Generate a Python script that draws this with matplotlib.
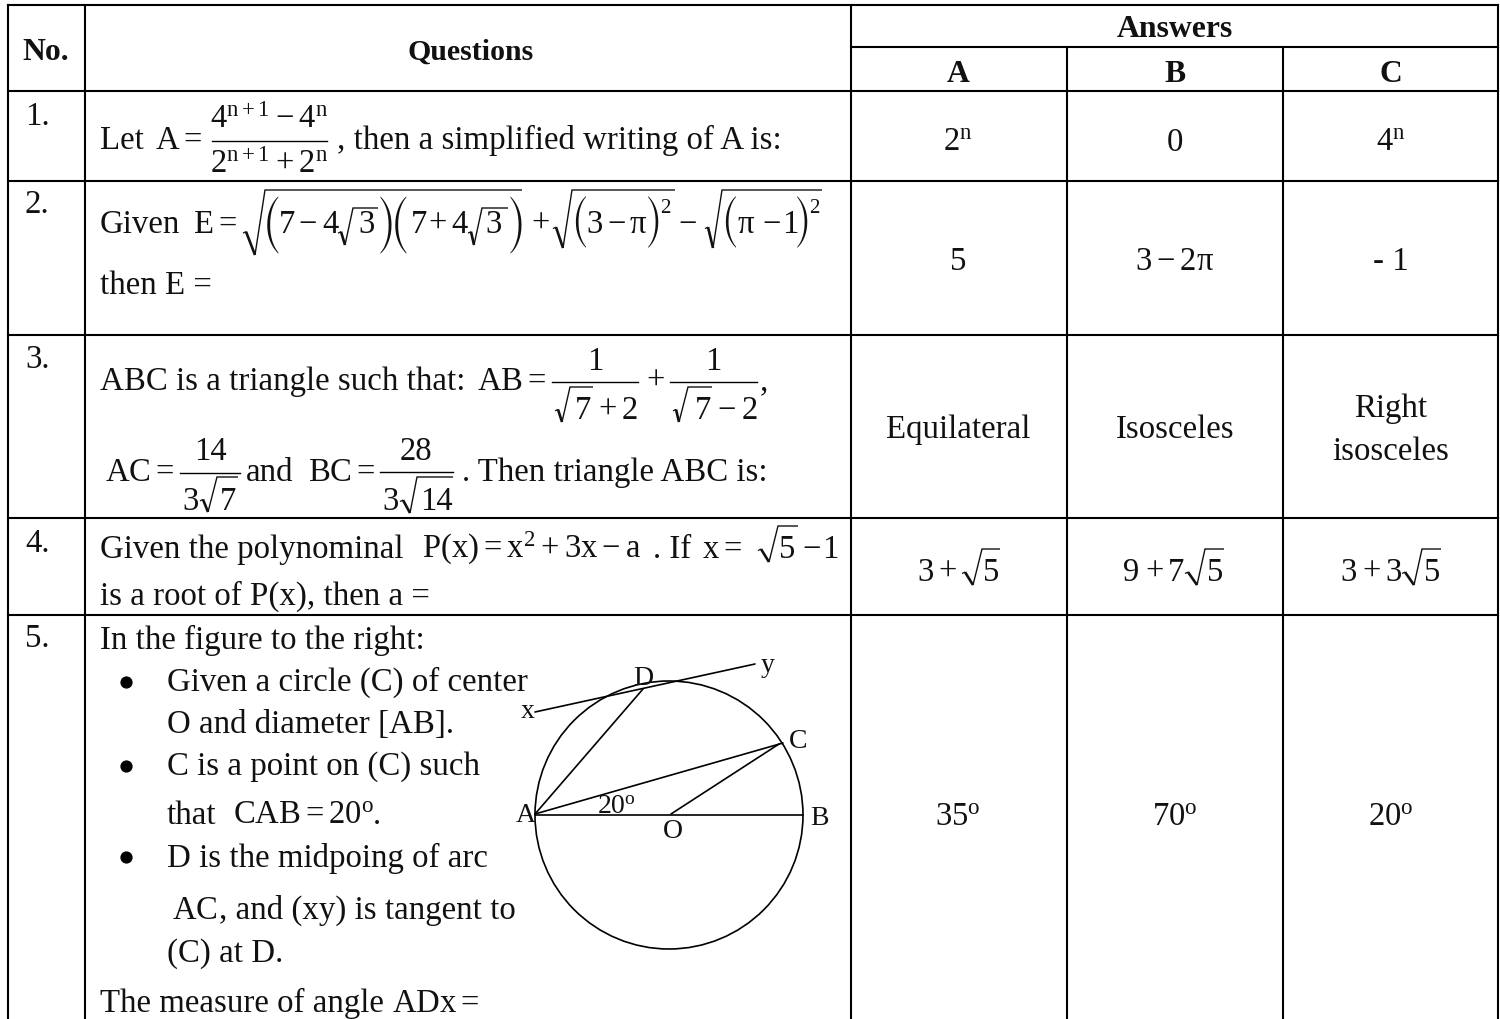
import matplotlib
matplotlib.use("Agg")
import matplotlib.pyplot as plt
from matplotlib.patches import Circle

plt.rcParams['font.family'] = ['Liberation Serif', 'DejaVu Serif']
plt.rcParams['mathtext.fontset'] = 'custom'
plt.rcParams['mathtext.rm'] = 'Liberation Serif'
plt.rcParams['mathtext.it'] = 'Liberation Serif'
plt.rcParams['mathtext.bf'] = 'Liberation Serif:bold'
plt.rcParams['mathtext.default'] = 'rm'
plt.rcParams['mathtext.fallback'] = 'stix'

# ---- content ----
header_main = ["No.", "Questions", "Answers"]
header_sub = ["A", "B", "C"]
row_numbers = ["1.", "2.", "3.", "4.", "5."]
answers_a = [r"$2^{n}$", "5", "Equilateral", None, r"$35^{o}$"]
answers_b = ["0", r"$3-2\pi$", "Isosceles", None, r"$70^{o}$"]
answers_c = [r"$4^{n}$", "- 1", None, None, r"$20^{o}$"]
answer_c3 = ["Right", "isosceles"]
answer_a4 = ["3", "+", "5"]
answer_b4 = ["9", "+", "7", "5"]
answer_c4 = ["3", "+", "3", "5"]

q1_text = ["Let", r"$A=$", r"$4^{n+1}-4^{n}$", r"$2^{n+1}+2^{n}$", ", then a simplified writing of A is:"]
q2_text = ["Given", r"$E=$", "then E ="]
q2_big1 = ["(", "7", "\u2212", "4", "3", ")", "(", "7", "+", "4", "3", ")"]
q2_link = ["+", "\u2212"]
q2_big2 = ["(", "3", "\u2212", "\u03c0", ")", "2"]
q2_big3 = ["(", "\u03c0", "\u2212", "1", ")", "2"]
q3_text = ["ABC is a triangle such that:", r"$AB=$", "1", "7", "+", "2", "+", "1", "7", "\u2212", "2", ",",
           r"$AC=$", "14", "3", "7", "and", r"$BC=$", "28", "3", "14", ". Then triangle ABC is:"]
q4_text = ["Given the polynominal", r"$P(x)=x^{2}+3x-a$", ". If", r"$x=$", "5", "\u2212", "1",
           "is a root of P(x), then a ="]
q5_text = ["In the figure to the right:", "Given a circle (C) of center", "O and diameter [AB].",
           "C is a point on (C) such", "that", r"$CAB=20^{o}$", ".", "D is the midpoing of arc",
           r"$AC$", ", and (xy) is tangent to", "(C) at D.", "The measure of angle", r"$ADx=$"]
figure_labels = ["x", "y", "D", "C", "A", "B", "O", r"$20^{o}$"]

# ---- layout ----
FS = 23.7
MS = 23.5
fig = plt.figure(figsize=(15, 10.19), dpi=100)
ax = fig.add_axes([0, 0, 1, 1])
ax.set_xlim(0, 1500)
ax.set_ylim(1019, 0)
ax.axis("off")

def t(x, y, s, size=FS, ha="left", **kw):
    return ax.text(x, y, s, fontsize=size, ha=ha, va="baseline", color="#111111", **kw)

def paren(x, y, s, size):
    # tall, thin delimiter glyph
    t(x, y, s, size, fontfamily="STIXSizeTwoSym")

def line(xs, ys, lw=1.5):
    ax.plot(xs, ys, color="black", lw=lw, solid_capstyle="projecting")

def rad(x0, x1, x2, x3, top, bot):
    """radical sign: tick start, lowest point, top of the stroke, end of the bar"""
    h = bot - top
    ty = bot - 0.36 * h
    ax.plot([x0, x0 + 3], [ty + 1.5, ty], color="#111111", lw=0.9, solid_capstyle="butt")
    ax.plot([x0 + 3, x1], [ty, bot], color="#111111", lw=1.9, solid_capstyle="butt")
    ax.plot([x1, x2, x3], [bot, top, top], color="#111111", lw=1.0, solid_joinstyle="miter",
            solid_capstyle="butt")

# table grid
for x in [8, 85, 851, 1067, 1283, 1498]:
    y0 = 47 if x in (1067, 1283) else 5
    line([x, x], [y0, 1019])
for y in [91, 181, 335, 518, 615]:
    line([8, 1498], [y, y])
line([8, 1498], [5, 5])
line([851, 1498], [47, 47])

# headers
cA, cB, cC = 958, 1175, 1391
t(46, 60, header_main[0], 22.8, weight="bold", ha="center")
t(471, 60, header_main[1], 21.5, weight="bold", ha="center")
t(1175, 37, header_main[2], 22.8, weight="bold", ha="center")
for cx, s in zip([cA, cB, cC], header_sub):
    t(cx, 82, s, 22.8, weight="bold", ha="center")

# row numbers
for y, s in zip([125, 213, 368, 552, 647], row_numbers):
    t(25, y, s)

# answers
ans_y = [151, 270, 438, 581, 826]
for cx, col in zip([cA, cB, cC], [answers_a, answers_b, answers_c]):
    for y, s in zip(ans_y, col):
        if s is not None:
            t(cx, y, s, ha="center", size=MS if s.startswith("$") else FS)
t(cC, 417, answer_c3[0], ha="center")
t(cC, 460, answer_c3[1], ha="center")
for x, s in zip([917, 938, 983], answer_a4):
    t(x, 581, s, MS)
rad(962, 973, 982, 1000, 549, 585)
for x, s in zip([1123, 1145, 1168, 1207], answer_b4):
    t(x, 581, s, MS)
rad(1185, 1197, 1205, 1224, 549, 585)
for x, s in zip([1340, 1362, 1385, 1424], answer_c4):
    t(x, 581, s, MS)
rad(1402, 1414, 1422, 1441, 549, 585)

# question 1
t(100, 149, q1_text[0])
t(155, 149, q1_text[1], MS)
line([212, 327], [141, 141], 1.0)
t(269, 128, q1_text[2], MS, ha="center")
t(269, 173, q1_text[3], MS, ha="center")
t(337, 149, q1_text[4])

# question 2
t(100, 233, q2_text[0])
t(193, 233, q2_text[1], MS)
rad(243, 255, 265, 522, 190, 255)
for x, s in zip([263, 279, 298, 322, 358, 377, 391, 411, 428, 451, 485, 507], q2_big1):
    if s in "()":
        paren(x, 245, s, 22)
    else:
        t(x, 233, s, MS)
rad(338, 345, 353, 378, 208, 245)
rad(468, 474, 482, 508, 208, 245)
t(531, 233, q2_link[0], MS)
t(678, 233, q2_link[1], MS)
rad(553, 563, 572, 675, 190, 248)
for x, s in zip([571, 586, 607, 630, 645, 660], q2_big2):
    if s in "()":
        paren(x, 240, s, 20)
    elif s == "2":
        t(x, 213, s, 15)
    else:
        t(x, 233, s, MS)
rad(705, 713, 722, 822, 190, 248)
for x, s in zip([721, 738, 762, 782, 794, 809], q2_big3):
    if s in "()":
        paren(x, 240, s, 20)
    elif s == "2":
        t(x, 213, s, 15)
    else:
        t(x, 233, s, MS)
t(100, 294, q2_text[2])

# question 3
t(100, 390, q3_text[0])
t(477, 390, q3_text[1], MS)
line([552, 638], [382, 382], 1.0)
t(595, 370, q3_text[2], MS, ha="center")
rad(555, 562, 570, 593, 387, 422)
t(575, 419, q3_text[3], MS)
t(598, 419, q3_text[4], MS)
t(622, 419, q3_text[5], MS)
t(646, 390, q3_text[6], MS)
line([670, 757], [382, 382], 1.0)
t(713, 370, q3_text[7], MS, ha="center")
rad(673, 679, 688, 712, 387, 422)
t(695, 419, q3_text[8], MS)
t(717, 419, q3_text[9], MS)
t(742, 419, q3_text[10], MS)
t(760, 390, q3_text[11])
t(105, 481, q3_text[12], MS)
line([180, 240], [473, 473], 1.0)
t(210, 460, q3_text[13], MS, ha="center")
t(182, 510, q3_text[14], MS)
rad(200, 208, 217, 238, 477, 512)
t(220, 510, q3_text[15], MS)
t(246, 481, q3_text[16])
t(308, 481, q3_text[17], MS)
line([380, 453], [472, 472], 1.0)
t(416, 460, q3_text[18], MS, ha="center")
t(382, 510, q3_text[19], MS)
rad(400, 410, 417, 453, 477, 513)
t(420, 510, q3_text[20], MS)
t(462, 481, q3_text[21])

# question 4
t(100, 558, q4_text[0])
t(422, 558, q4_text[1], MS)
t(653, 558, q4_text[2])
t(702, 558, q4_text[3], MS)
rad(758, 769, 778, 798, 526, 562)
t(779, 558, q4_text[4], MS)
t(802, 558, q4_text[5], MS)
t(822, 558, q4_text[6], MS)
t(100, 605, q4_text[7])

# question 5
t(100, 649, q5_text[0])
t(167, 691, q5_text[1])
t(167, 733, q5_text[2])
t(167, 775, q5_text[3])
t(167, 824, q5_text[4])
t(233, 824, q5_text[5], MS)
t(373, 824, q5_text[6])
t(167, 867, q5_text[7])
t(172, 919, q5_text[8], MS)
t(219, 919, q5_text[9])
t(167, 962, q5_text[10])
t(100, 1012, q5_text[11])
t(392, 1012, q5_text[12], MS)
ax.plot([126, 126, 126], [682, 766, 857], "o", color="black", ms=8.8, mew=0)

# geometry figure
ax.add_patch(Circle((669, 815), 134, fill=False, ec="black", lw=1.2))
for xs, ys in [([535, 755], [712, 664]), ([535, 643], [814, 689]), ([535, 783], [814, 743]),
               ([671, 779], [814, 744]), ([535, 803], [815, 815])]:
    ax.plot(xs, ys, color="black", lw=1.2, solid_capstyle="round")
FIG = 20
for (x, y), s in zip([(528, 718), (768, 672), (643, 685), (798, 748), (526, 822), (819, 825), (673, 838)],
                     figure_labels[:7]):
    t(x, y, s, FIG, ha="center")
t(597, 814, figure_labels[7], FIG)

fig.savefig("out.png", dpi=100)
